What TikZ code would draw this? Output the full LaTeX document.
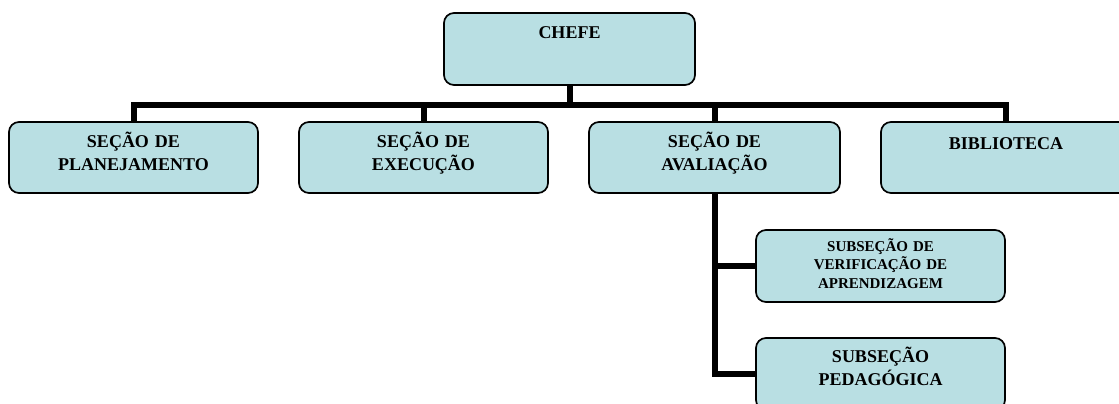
\documentclass[tikz,border=0pt]{standalone}
\usepackage{fontspec}
\setmainfont{Liberation Serif}
\usetikzlibrary{calc}
\definecolor{boxfill}{RGB}{185,223,227}
\tikzset{
  orgbox/.style={rectangle, draw=black, line width=1.7pt, fill=boxfill,
                 rounded corners=10pt, inner sep=0pt},
  lbl/.style={text width=240pt, align=center, inner sep=0pt, anchor=base,
              font=\bfseries\fontsize{18}{23}\selectfont},
  sublbl/.style={lbl, font=\bfseries\fontsize{15}{18.3}\selectfont},
  conn/.style={line width=6pt, draw=black},
}
\begin{document}
\begin{tikzpicture}[x=1pt, y=-1pt]
  \useasboundingbox (0,0) rectangle (1119,404);
  \clip (0,0) rectangle (1119,404);

  % boxes
  \node[orgbox, minimum width=251pt, minimum height=72pt] (chefe) at (569.5,49) {};
  \node[orgbox, minimum width=249pt, minimum height=71pt] (b1) at (133.5,157.5) {};
  \node[orgbox, minimum width=249pt, minimum height=71pt] (b2) at (423.5,157.5) {};
  \node[orgbox, minimum width=251pt, minimum height=71pt] (b3) at (714.5,157.5) {};
  \node[orgbox, minimum width=250pt, minimum height=71pt] (b4) at (1006,157.5) {};
  \node[orgbox, minimum width=249pt, minimum height=72pt] (b5) at (880.5,266) {};
  \node[orgbox, minimum width=249pt, minimum height=72pt] (b6) at (880.5,374) {};

  % connectors
  \coordinate (bus) at ($(chefe.south)+(0,19)$);
  \draw[conn] (chefe.south) -- (bus);
  \foreach \b in {b1,b2,b3,b4} \draw[conn] (bus) -| (\b.north);
  \draw[conn] (b3.south) |- (b6.west);
  \draw[conn] (b3.south |- b5.west) -- (b5.west);

  % labels
  \node[lbl] (chefe-t) at ($(chefe.north)+(0,26)$) {CHEFE};
  \node[lbl] (b1-t) at ($(b1.north)+(0,26.5)$) {SEÇÃO DE\\PLANEJAMENTO};
  \node[lbl] (b2-t) at ($(b2.north)+(0,26.5)$) {SEÇÃO DE\\EXECUÇÃO};
  \node[lbl] (b3-t) at ($(b3.north)+(0,26.5)$) {SEÇÃO DE\\AVALIAÇÃO};
  \node[lbl] (b4-t) at ($(b4.north)+(0,28)$) {BIBLIOTECA};
  \node[sublbl] (b5-t) at ($(b5.north)+(0,22.5)$) {SUBSEÇÃO DE\\VERIFICAÇÃO DE\\APRENDIZAGEM};
  \node[lbl] (b6-t) at ($(b6.north)+(0,25)$) {SUBSEÇÃO\\PEDAGÓGICA};
\end{tikzpicture}
\end{document}
